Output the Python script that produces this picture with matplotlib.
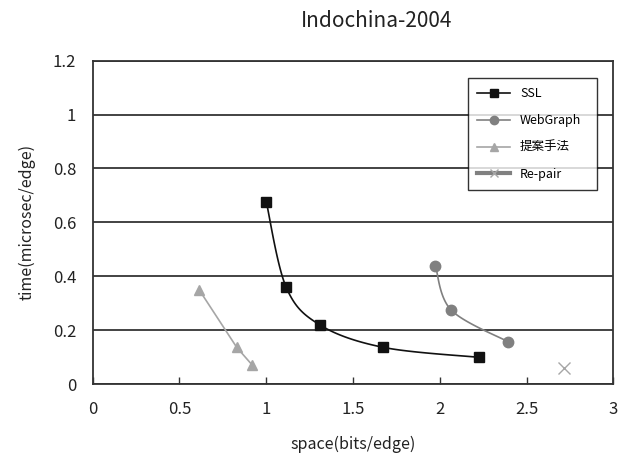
import numpy as np
import matplotlib
matplotlib.use("Agg")
import matplotlib.pyplot as plt

plt.rcParams['font.family'] = ['Noto Sans CJK JP', 'DejaVu Sans']

# values
ssl_x = [1.00, 1.115, 1.31, 1.675, 2.225]
ssl_y = [0.677, 0.359, 0.219, 0.136, 0.099]
wg_x = [1.975, 2.065, 2.393]
wg_y = [0.439, 0.275, 0.157]
prop_x = [0.615, 0.83, 0.917]
prop_y = [0.348, 0.136, 0.072]
rp_x = [2.714]
rp_y = [0.058]

xticks = [0, 0.5, 1, 1.5, 2, 2.5, 3]
xticklabels = ['0', '0.5', '1', '1.5', '2', '2.5', '3']
yticks = [0, 0.2, 0.4, 0.6, 0.8, 1.0, 1.2]
yticklabels = ['0', '0.2', '0.4', '0.6', '0.8', '1', '1.2']


def smooth(xs, ys, n=30):
    # catmull-rom style curve through the points, like excel's smoothed line
    xs = np.asarray(xs, float)
    ys = np.asarray(ys, float)
    if len(xs) < 3:
        return xs, ys
    px = np.concatenate([[xs[0]], xs, [xs[-1]]])
    py = np.concatenate([[ys[0]], ys, [ys[-1]]])
    ox, oy = [], []
    t = np.linspace(0, 1, n)
    for i in range(1, len(px) - 2):
        p0, p1, p2, p3 = [np.array([px[j], py[j]]) for j in (i - 1, i, i + 1, i + 2)]
        c1 = p1 + (p2 - p0) / 6
        c2 = p2 - (p3 - p1) / 6
        b = ((1 - t) ** 3)[:, None] * p1 + (3 * (1 - t) ** 2 * t)[:, None] * c1 \
            + (3 * (1 - t) * t ** 2)[:, None] * c2 + (t ** 3)[:, None] * p2
        ox.extend(b[:, 0])
        oy.extend(b[:, 1])
    return np.array(ox), np.array(oy)


fig = plt.figure(figsize=(6.18, 4.63), dpi=100)
ax = fig.add_axes([0.15, 0.1706, 0.8424, 0.6984])

sx, sy = smooth(ssl_x, ssl_y)
ax.plot(sx, sy, color='#111111', lw=1.2, zorder=3)
ax.plot(ssl_x, ssl_y, ls='none', marker='s', ms=7, color='#111111', zorder=4)

wx, wy = smooth(wg_x, wg_y)
ax.plot(wx, wy, color='#808080', lw=1.2, zorder=3)
ax.plot(wg_x, wg_y, ls='none', marker='o', ms=7.5, color='#808080', zorder=4)

ax.plot(prop_x, prop_y, color='#a6a6a6', lw=1.2, marker='^', ms=7.5, zorder=3)

ax.plot(rp_x, rp_y, ls='none', marker='x', ms=9, mew=1.0, color='#a6a6a6', zorder=3)

# legend handles
h1, = ax.plot([], [], color='#111111', lw=1.2, marker='s', ms=6, label='SSL')
h2, = ax.plot([], [], color='#808080', lw=1.2, marker='o', ms=6, label='WebGraph')
h3, = ax.plot([], [], color='#a6a6a6', lw=1.2, marker='^', ms=6, label='提案手法')
h4, = ax.plot([], [], color='#808080', lw=3, marker='x', ms=6, mec='#a6a6a6', label='Re-pair')
leg = ax.legend(handles=[h1, h2, h3, h4], loc='upper left',
                bbox_to_anchor=(0.721, 0.603, 0.248, 0.343), mode='expand',
                fontsize=9, frameon=True, fancybox=False, borderaxespad=0,
                handlelength=2.6, labelspacing=1.1, borderpad=0.75)
leg.get_frame().set_edgecolor('black')
leg.get_frame().set_linewidth(1.0)

ax.set_xlim(0, 3)
ax.set_ylim(0, 1.2)
ax.set_xticks(xticks)
ax.set_xticklabels(xticklabels)
ax.set_yticks(yticks)
ax.set_yticklabels(yticklabels)
ax.tick_params(axis='x', direction='in', length=5, width=1, pad=12, labelsize=12, colors='#333333', labelcolor='#222222')
ax.tick_params(axis='y', length=0, pad=12, labelsize=12, labelcolor='#222222')
ax.yaxis.grid(True, color='#222222', lw=1.2)
ax.set_axisbelow(True)
for s in ax.spines.values():
    s.set_color('#333333')
    s.set_linewidth(1.3)

ax.set_xlabel('space(bits/edge)', fontsize=11.5, labelpad=13, color='#222222')
ax.set_ylabel('time(microsec/edge)', fontsize=11.5, labelpad=12, color='#222222')
fig.text(0.61, 0.955, 'Indochina-2004', ha='center', va='center', fontsize=15, color='#222222')

fig.savefig('out.png', dpi=100)
